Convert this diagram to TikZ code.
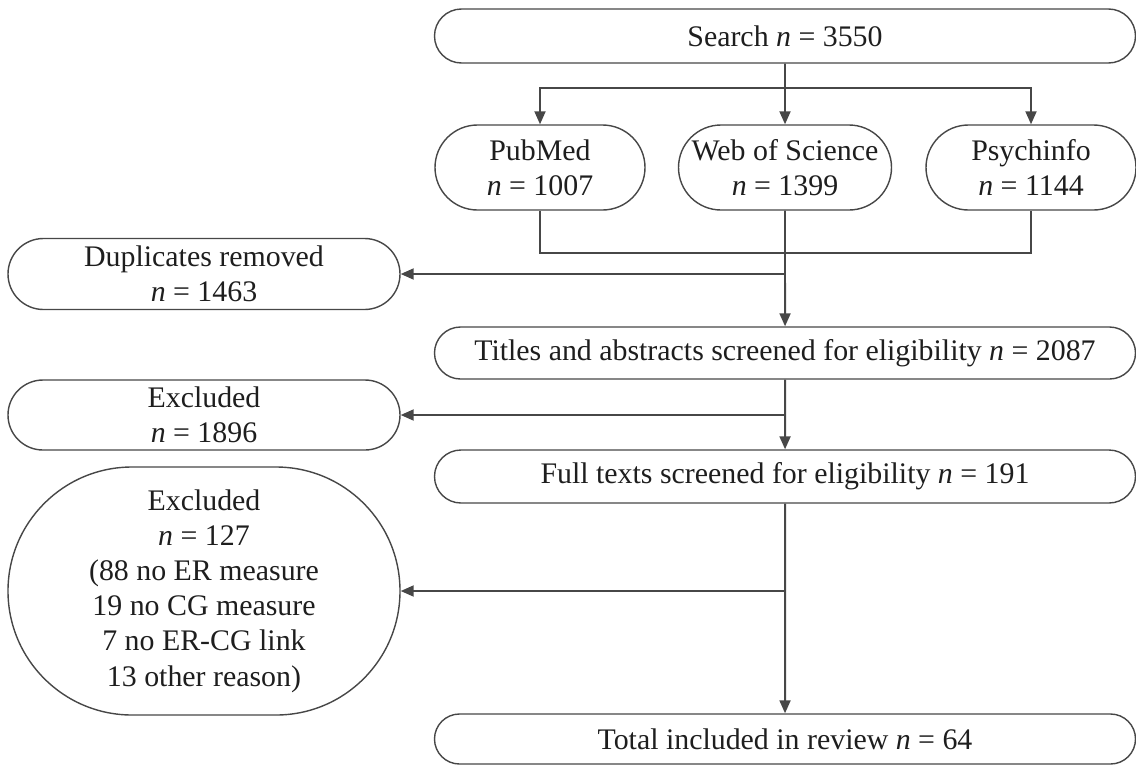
\documentclass[tikz,border=0pt]{standalone}
\usepackage{fontspec}
\setmainfont{Liberation Serif}
\usetikzlibrary{arrows.meta}
\usetikzlibrary{shapes.misc}
\definecolor{edgegray}{HTML}{474747}
\definecolor{inkgray}{HTML}{1E1E1E}
\tikzset{>={Triangle[length = 0.26cm, width = 0.22cm]}}
\tikzset{box/.style = {draw = edgegray, line width = 0.8pt, rounded rectangle,
                       align = center, inner sep = 0, text = inkgray,
                       font = \fontsize{17}{20}\selectfont}}
\tikzset{wide/.style = {box, minimum width = 14.02cm}}
\tikzset{side/.style = {box, minimum width = 7.84cm}}
\tikzset{db/.style = {box, minimum width = 4.2cm, minimum height = 1.70cm}}
\tikzset{link/.style = {draw = edgegray, line width = 1.1pt}}

\begin{document}
\begin{tikzpicture}
      \useasboundingbox (0, 0) rectangle (22.72, -15.32);

      \node (search) [wide, minimum height = 1.08cm] at (15.70, -0.72) {Search \textit{n} = 3550};

      \node (pubmed) [db] at (10.80, -3.35) {PubMed\\\textit{n} = 1007};
      \node (wos) [db, minimum width = 4.26cm] at (15.70, -3.35) {Web of Science\\\textit{n} = 1399};
      \node (psych) [db] at (20.62, -3.35) {Psychinfo\\\textit{n} = 1144};

      \node (dup) [side, minimum height = 1.42cm] at (4.08, -5.48) {Duplicates removed\\\textit{n} = 1463};
      \node (titles) [wide, minimum height = 1.04cm] at (15.70, -7.06)
            {Titles and abstracts screened for eligibility \textit{n} = 2087};
      \node (excl1) [side, minimum height = 1.40cm] at (4.08, -8.30) {Excluded\\\textit{n} = 1896};
      \node (full) [wide, minimum height = 1.06cm] at (15.70, -9.53)
            {Full texts screened for eligibility \textit{n} = 191};
      \node (excl2) [side, minimum height = 4.96cm] at (4.08, -11.82)
            {Excluded\\\textit{n} = 127\\(88 no ER measure\\19 no CG measure\\7 no ER-CG link\\13 other reason)};
      \node (total) [wide, minimum height = 1.00cm] at (15.70, -14.78) {Total included in review \textit{n} = 64};

      \coordinate (split) at (15.70, -1.76);
      \coordinate (merge) at (15.70, -5.06);

      % search into the three databases
      \draw [link] (search) -- (split);
      \draw [link, ->] (split) -| (pubmed);
      \draw [link, ->] (split) -- (wos);
      \draw [link, ->] (split) -| (psych);

      % databases back together
      \draw [link] (pubmed) |- (merge) -| (psych);
      \draw [link] (wos) -- (merge);
      \draw [link, ->] (merge) -- (titles);
      \draw [link, ->] (dup -| merge) -- (dup);

      \draw [link, ->] (titles) -- (full);
      \draw [link, ->] (excl1 -| titles) -- (excl1);

      \draw [link, ->] (full) -- (total);
      \draw [link, ->] (excl2 -| full) -- (excl2);
    \end{tikzpicture}
\end{document}
